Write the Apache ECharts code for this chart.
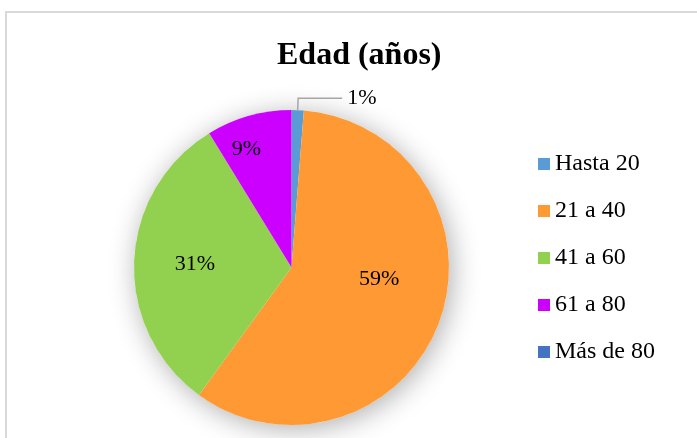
<!DOCTYPE html>
<html lang="es">
<head>
<meta charset="UTF-8" />
<title>Edad (años)</title>
<script src="https://cdn.jsdelivr.net/npm/echarts@6/dist/echarts.min.js"></script>
<style>
  html, body { margin: 0; padding: 0; background: #fff; }
  #chart { width: 697px; height: 438px; }
</style>
</head>
<body>
<div id="chart"></div>
<script>
  // datos
  const categorias = ['Hasta 20', '21 a 40', '41 a 60', '61 a 80', 'Más de 80'];
  const valores = [1, 47, 25, 7, 0];
  const colores = ['#5B9BD5', '#FF9933', '#92D050', '#CC00FF', '#4472C4'];

  // ajustes de etiqueta (estilo)
  const desplazamientos = [[0, 0], [11, -17], [-15, 0], [-23, -40], [0, 0]];

  const serif = '"Times New Roman", "Liberation Serif", serif';
  const center = [291.5, 267.5];
  const radius = 157.5;

  const chart = echarts.init(document.getElementById('chart'));

  const data = categorias.map((c, i) => {
    const item = {
      name: c,
      value: valores[i],
      itemStyle: { color: colores[i] }
    };
    if (valores[i] === 0) {
      item.label = { show: false };
      item.labelLine = { show: false };
    } else if (i === 0) {
      item.label = { position: 'outside' };
      item.labelLine = { show: true, length: 12, length2: 44, lineStyle: { color: '#a6a6a6', width: 1.5 } };
    } else {
      item.label = { position: 'inside', offset: desplazamientos[i] };
      item.labelLine = { show: false };
    }
    return item;
  });

  chart.setOption({
    animation: false,
    title: {
      text: 'Edad (años)',
      left: 272,
      top: 35,
      textStyle: { fontFamily: serif, fontSize: 32, fontWeight: 'bold', color: '#000' }
    },
    legend: {
      orient: 'vertical',
      left: 533,
      top: 147,
      itemWidth: 12,
      itemHeight: 12,
      itemGap: 23,
      icon: 'rect',
      data: categorias,
      textStyle: { fontFamily: serif, fontSize: 24, color: '#000' }
    },
    graphic: [{
      type: 'rect',
      shape: { x: 6, y: 12, width: 720, height: 460 },
      style: { fill: 'none', stroke: '#d9d9d9', lineWidth: 2 },
      silent: true
    }],
    series: [
      {
        // sombra de fondo
        type: 'pie',
        silent: true,
        center: center,
        radius: radius,
        z: 1,
        label: { show: false },
        labelLine: { show: false },
        itemStyle: {
          color: '#fff',
          shadowBlur: 28,
          shadowColor: 'rgba(0,0,0,0.32)',
          shadowOffsetX: 3,
          shadowOffsetY: 4
        },
        data: [{ value: 1, name: '' }],
        legendHoverLink: false
      },
      {
        name: 'Edad',
        type: 'pie',
        center: center,
        radius: radius,
        startAngle: 90,
        clockwise: true,
        z: 2,
        avoidLabelOverlap: false,
        label: {
          show: true,
          fontFamily: serif,
          fontSize: 22,
          color: '#000',
          formatter: p => Math.round(p.percent) + '%'
        },
        emphasis: { disabled: true },
        data: data
      }
    ]
  });
</script>
</body>
</html>
